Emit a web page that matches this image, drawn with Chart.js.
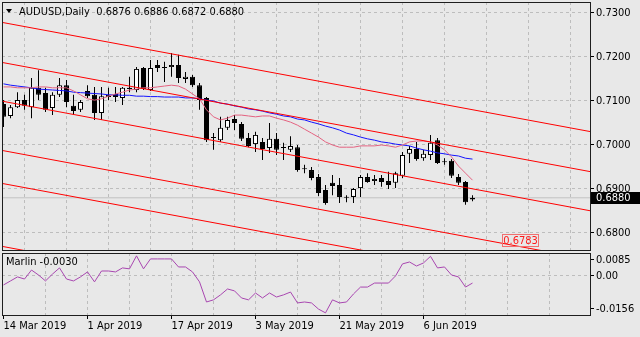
<!DOCTYPE html>
<html>
<head>
<meta charset="utf-8">
<script src="https://cdn.jsdelivr.net/npm/chart.js@4.4.1/dist/chart.umd.min.js"></script>
<style>
  html, body { margin: 0; padding: 0; background: #e8e8e8; }
  #wrap { position: relative; width: 640px; height: 337px; overflow: hidden; }
  canvas { position: absolute; left: 0; }
  #main { top: 0; }
  #osc { top: 252px; }
</style>
</head>
<body>
<div id="wrap">
  <canvas id="main" width="640" height="252"></canvas>
  <canvas id="osc" width="640" height="85"></canvas>
</div>
<script>
// daily AUDUSD candles, 14 Mar 2019 .. 17 Jun 2019 (one entry per bar)
const open = [
  0.7093, 0.7066, 0.7086, 0.7102, 0.7086, 0.7130, 0.7118, 0.7084, 0.7114, 0.7136,
  0.7089, 0.7080, 0.7123, 0.7114, 0.7073, 0.7114, 0.7116, 0.7107, 0.7130, 0.7125,
  0.7175, 0.7125, 0.7182, 0.7175, 0.7177, 0.7182, 0.7150, 0.7155, 0.7136, 0.7107,
  0.7016, 0.7011, 0.7039, 0.7059, 0.7048, 0.7016, 0.7002, 0.7007, 0.6993, 0.7014,
  0.6993, 0.6989, 0.6995, 0.6945, 0.6943, 0.6927, 0.6898, 0.6914, 0.6909, 0.6880,
  0.6882, 0.6902, 0.6927, 0.6918, 0.6925, 0.6918, 0.6914, 0.6930, 0.6980, 0.6991,
  0.6970, 0.6977, 0.7011, 0.6961, 0.6964, 0.6927, 0.6916, 0.6876
];
const high = [
  0.7102, 0.7091, 0.7120, 0.7114, 0.7152, 0.7170, 0.7130, 0.7120, 0.7152, 0.7148,
  0.7114, 0.7102, 0.7136, 0.7132, 0.7132, 0.7130, 0.7132, 0.7132, 0.7155, 0.7177,
  0.7177, 0.7193, 0.7193, 0.7189, 0.7209, 0.7205, 0.7166, 0.7159, 0.7141, 0.7109,
  0.7027, 0.7064, 0.7064, 0.7068, 0.7052, 0.7027, 0.7030, 0.7016, 0.7050, 0.7027,
  0.7005, 0.7020, 0.7000, 0.6955, 0.6950, 0.6934, 0.6909, 0.6932, 0.6925, 0.6886,
  0.6902, 0.6932, 0.6936, 0.6932, 0.6932, 0.6939, 0.6939, 0.6984, 0.6998, 0.7007,
  0.6989, 0.7023, 0.7016, 0.6970, 0.6968, 0.6934, 0.6918, 0.6886
];
const low = [
  0.7041, 0.7061, 0.7084, 0.7080, 0.7061, 0.7102, 0.7075, 0.7068, 0.7109, 0.7086,
  0.7068, 0.7075, 0.7107, 0.7057, 0.7057, 0.7102, 0.7098, 0.7091, 0.7120, 0.7120,
  0.7125, 0.7123, 0.7166, 0.7143, 0.7155, 0.7141, 0.7141, 0.7132, 0.7080, 0.7007,
  0.6989, 0.7007, 0.7034, 0.7034, 0.7009, 0.6995, 0.6984, 0.6966, 0.6982, 0.6977,
  0.6966, 0.6984, 0.6939, 0.6936, 0.6920, 0.6884, 0.6864, 0.6886, 0.6868, 0.6870,
  0.6868, 0.6882, 0.6914, 0.6909, 0.6905, 0.6900, 0.6902, 0.6925, 0.6959, 0.6964,
  0.6964, 0.6966, 0.6957, 0.6955, 0.6925, 0.6909, 0.6864, 0.6872
];
const close = [
  0.7064, 0.7086, 0.7102, 0.7089, 0.7130, 0.7114, 0.7080, 0.7114, 0.7136, 0.7098,
  0.7077, 0.7098, 0.7111, 0.7073, 0.7111, 0.7109, 0.7109, 0.7130, 0.7127, 0.7173,
  0.7127, 0.7175, 0.7175, 0.7175, 0.7182, 0.7152, 0.7155, 0.7136, 0.7102, 0.7011,
  0.7016, 0.7039, 0.7057, 0.7050, 0.7014, 0.6998, 0.7023, 0.6991, 0.7014, 0.6989,
  0.6993, 0.6998, 0.6943, 0.6945, 0.6925, 0.6891, 0.6868, 0.6907, 0.6882, 0.6880,
  0.6900, 0.6927, 0.6916, 0.6923, 0.6916, 0.6909, 0.6936, 0.6977, 0.6991, 0.6968,
  0.6980, 0.7005, 0.6959, 0.6961, 0.6930, 0.6914, 0.6870, 0.6880
];

// moving averages
const maSlow = [
  0.7139, 0.7136, 0.7134, 0.7132, 0.7130, 0.7127, 0.7126, 0.7125, 0.7124, 0.7123,
  0.7120, 0.7119, 0.7118, 0.7117, 0.7116, 0.7114, 0.7114, 0.7113, 0.7113, 0.7111,
  0.7111, 0.7110, 0.7110, 0.7109, 0.7109, 0.7109, 0.7107, 0.7107, 0.7105, 0.7102,
  0.7100, 0.7095, 0.7093, 0.7089, 0.7086, 0.7082, 0.7080, 0.7077, 0.7073, 0.7070,
  0.7066, 0.7064, 0.7059, 0.7057, 0.7052, 0.7048, 0.7043, 0.7039, 0.7034, 0.7027,
  0.7023, 0.7018, 0.7014, 0.7011, 0.7007, 0.7005, 0.7002, 0.7000, 0.6998, 0.6993,
  0.6989, 0.6986, 0.6982, 0.6980, 0.6977, 0.6975, 0.6970, 0.6968
];
const maFast = [
  0.7132, 0.7132, 0.7130, 0.7130, 0.7130, 0.7132, 0.7132, 0.7130, 0.7130, 0.7130,
  0.7123, 0.7114, 0.7105, 0.7102, 0.7105, 0.7111, 0.7116, 0.7120, 0.7125, 0.7127,
  0.7130, 0.7130, 0.7132, 0.7134, 0.7136, 0.7134, 0.7127, 0.7116, 0.7105, 0.7080,
  0.7064, 0.7057, 0.7061, 0.7068, 0.7068, 0.7066, 0.7064, 0.7066, 0.7066, 0.7061,
  0.7057, 0.7052, 0.7045, 0.7036, 0.7027, 0.7018, 0.7007, 0.7000, 0.6995, 0.6995,
  0.6995, 0.6998, 0.6998, 0.6998, 0.7000, 0.6998, 0.6995, 0.7000, 0.7007, 0.7009,
  0.7009, 0.7007, 0.7000, 0.6989, 0.6973, 0.6952, 0.6936, 0.6920
];

// Marlin oscillator
const marlin = [
  -0.0038, -0.0021, -0.0004, -0.0013, 0.0025, 0.0004, -0.0021, 0.0008, 0.0034, -0.0013,
  -0.0021, -0.0004, 0.0017, -0.0025, 0.0021, 0.0021, 0.0017, 0.0034, 0.0030, 0.0085,
  0.0030, 0.0072, 0.0072, 0.0072, 0.0072, 0.0038, 0.0038, 0.0017, -0.0025, -0.0110,
  -0.0101, -0.0080, -0.0055, -0.0063, -0.0093, -0.0101, -0.0072, -0.0093, -0.0072, -0.0089,
  -0.0080, -0.0068, -0.0114, -0.0110, -0.0114, -0.0140, -0.0156, -0.0101, -0.0114, -0.0110,
  -0.0076, -0.0047, -0.0047, -0.0030, -0.0030, -0.0030, 0.0000, 0.0051, 0.0059, 0.0042,
  0.0055, 0.0083, 0.0034, 0.0038, 0.0004, -0.0004, -0.0047, -0.0030
];

// parallel channel lines: price at bar -1 and at bar 85
const channelBars = [-1, 85];
const channelStart = [0.7281, 0.7190, 0.7102, 0.6990, 0.6915, 0.6772];
const channelEnd = [0.7027, 0.6936, 0.6847, 0.6736, 0.6661, 0.6517];
const channelLabel = 0.6783;

const priceTicks = [0.73, 0.72, 0.71, 0.70, 0.69, 0.68];
const gridBars = [6, 12, 18, 24, 30, 36, 42, 48, 54, 60, 66, 72, 78];
const dateTickBars = [0, 12, 24, 36, 48, 60];
const dateTickLabels = ['14 Mar 2019', '1 Apr 2019', '17 Apr 2019', '3 May 2019', '21 May 2019', '6 Jun 2019'];
const oscTickValues = [0.0068, 0, -0.0139];
const oscTickLabels = ['0.0085', '0.00', '-0.0156'];

const FONT = 'Tahoma, "DejaVu Sans Condensed", "DejaVu Sans", sans-serif';
const GRID = '#bdbdbd';
const XMIN = -1.5 / 7, XMAX = XMIN + 588 / 7;

const bars = open.map((v, i) => i);
const last = open.length - 1;

function frame(ctx, ca) {
  ctx.save();
  ctx.strokeStyle = '#1e1e1e';
  ctx.lineWidth = 1;
  ctx.strokeRect(ca.left + 0.5, ca.top + 0.5, ca.right - ca.left, ca.bottom - ca.top);
  ctx.restore();
}

// keep the axes from pushing the plot area around
function noPad(s) {
  s.paddingTop = 0; s.paddingBottom = 0; s.paddingLeft = 0; s.paddingRight = 0;
}

const mainOverlay = {
  id: 'mainOverlay',
  afterDraw(chart) {
    const ctx = chart.ctx, ca = chart.chartArea;
    const ys = chart.scales.y, xs = chart.scales.x;
    frame(ctx, ca);
    ctx.save();
    // title
    ctx.fillStyle = '#000';
    ctx.beginPath();
    ctx.moveTo(6, 9); ctx.lineTo(12, 9); ctx.lineTo(9, 13); ctx.closePath(); ctx.fill();
    ctx.font = '11px ' + FONT;
    ctx.textBaseline = 'middle';
    ctx.textAlign = 'left';
    const ohlc = [open[last], high[last], low[last], close[last]].map(v => v.toFixed(4)).join(' ');
    ctx.fillText('AUDUSD,Daily  ' + ohlc, 19, 12);
    // channel price label
    const lx = xs.getPixelForValue(73.8), ly = ys.getPixelForValue(channelLabel);
    ctx.strokeStyle = '#f07070';
    ctx.strokeRect(Math.round(lx - 18) + 0.5, Math.round(ly - 6) + 0.5, 36, 12);
    ctx.fillStyle = '#ff1a1a';
    ctx.textAlign = 'center';
    ctx.fillText(channelLabel.toFixed(4), lx + 0.5, ly + 0.5);
    // current price tag
    const py = Math.round(ys.getPixelForValue(close[last]));
    ctx.fillStyle = '#000';
    ctx.fillRect(591, py - 6, 49, 12);
    ctx.fillStyle = '#fff';
    ctx.textAlign = 'left';
    ctx.fillText(close[last].toFixed(4), 596, py);
    ctx.restore();
  }
};

const oscOverlay = {
  id: 'oscOverlay',
  afterDraw(chart) {
    const ctx = chart.ctx, ca = chart.chartArea;
    frame(ctx, ca);
    ctx.save();
    ctx.fillStyle = '#000';
    ctx.font = '11px ' + FONT;
    ctx.textBaseline = 'middle';
    ctx.fillText('Marlin ' + marlin[last].toFixed(4), 6, 10);
    ctx.restore();
  }
};

const lineDefaults = { type: 'line', pointRadius: 0, borderWidth: 1, fill: false, tension: 0 };

const channelSets = channelStart.map((v, k) => Object.assign({}, lineDefaults, {
  data: [{ x: channelBars[0], y: v }, { x: channelBars[1], y: channelEnd[k] }],
  borderColor: '#ff0000',
  order: 1
}));

new Chart(document.getElementById('main'), {
  type: 'bar',
  data: {
    datasets: [
      Object.assign({}, lineDefaults, {
        data: [{ x: -1, y: close[last] }, { x: 85, y: close[last] }],
        borderColor: '#c2c2c2', order: 6
      }),
      {
        data: bars.map(i => ({ x: i, y: [low[i], high[i]] })),
        backgroundColor: '#000', borderWidth: 0, barThickness: 1,
        grouped: false, inflateAmount: 0, order: 5
      },
      {
        data: bars.map(i => ({ x: i, y: [open[i], close[i]] })),
        backgroundColor: c => close[c.dataIndex] > open[c.dataIndex] ? '#ffffff' : '#000000',
        borderColor: '#000', borderWidth: 1, borderSkipped: false,
        barThickness: 5, minBarLength: 1, grouped: false, inflateAmount: 0, order: 4
      },
      Object.assign({}, lineDefaults, {
        data: bars.map(i => ({ x: i, y: maSlow[i] })), borderColor: '#1414ff', order: 3
      }),
      Object.assign({}, lineDefaults, {
        data: bars.map(i => ({ x: i, y: maFast[i] })), borderColor: 'rgb(228,98,128)', order: 2
      })
    ].concat(channelSets)
  },
  options: {
    responsive: false,
    animation: false,
    devicePixelRatio: 1,
    layout: { padding: { left: 2, top: 2, right: 0, bottom: 2 } },
    plugins: { legend: { display: false }, tooltip: { enabled: false } },
    scales: {
      x: {
        type: 'linear', min: XMIN, max: XMAX, offset: false,
        afterBuildTicks: s => { s.ticks = gridBars.map(v => ({ value: v })); },
        afterFit: s => { s.height = 0; noPad(s); },
        ticks: { display: false },
        grid: { color: GRID, drawTicks: false },
        border: { display: false, dash: [3, 3] }
      },
      y: {
        position: 'right', min: 0.676136, max: 0.7325,
        afterBuildTicks: s => { s.ticks = priceTicks.map(v => ({ value: v })); },
        afterFit: s => { s.width = 50; noPad(s); },
        ticks: { callback: v => v.toFixed(4), color: '#000', font: { family: FONT, size: 11 }, padding: 2 },
        grid: { color: GRID, tickColor: '#000', tickLength: 4, tickBorderDash: [] },
        border: { display: false, dash: [3, 3] }
      }
    }
  },
  plugins: [mainOverlay]
});

new Chart(document.getElementById('osc'), {
  type: 'line',
  data: {
    datasets: [Object.assign({}, lineDefaults, {
      data: bars.map(i => ({ x: i, y: marlin[i] })), borderColor: '#a846b0'
    })]
  },
  options: {
    responsive: false,
    animation: false,
    devicePixelRatio: 1,
    layout: { padding: { left: 2, top: 1, right: 0, bottom: 0 } },
    plugins: { legend: { display: false }, tooltip: { enabled: false } },
    scales: {
      x: {
        type: 'linear', min: XMIN, max: XMAX,
        afterBuildTicks: s => { s.ticks = [0].concat(gridBars).map(v => ({ value: v })); },
        afterFit: s => { s.height = 22; noPad(s); },
        ticks: {
          autoSkip: false, maxRotation: 0, align: 'start', padding: 1,
          color: '#000', font: { family: FONT, size: 11 },
          callback: v => { const k = dateTickBars.indexOf(v); return k < 0 ? '' : dateTickLabels[k]; }
        },
        grid: {
          color: c => (c.tick && gridBars.includes(c.tick.value)) ? GRID : 'rgba(0,0,0,0)',
          tickColor: c => (c.tick && dateTickBars.includes(c.tick.value)) ? '#000' : 'rgba(0,0,0,0)',
          tickLength: 4, tickBorderDash: []
        },
        border: { display: false, dash: [3, 3] }
      },
      y: {
        position: 'right', min: -0.0165, max: 0.0097,
        afterBuildTicks: s => { s.ticks = oscTickValues.map(v => ({ value: v })); },
        afterFit: s => { s.width = 50; noPad(s); },
        ticks: {
          color: '#000', font: { family: FONT, size: 11 }, padding: 2,
          callback: (v, i) => oscTickLabels[i]
        },
        grid: {
          color: c => (c.tick && c.tick.value === 0) ? GRID : 'rgba(0,0,0,0)',
          tickColor: '#000', tickLength: 4, tickBorderDash: []
        },
        border: { display: false, dash: [3, 3] }
      }
    }
  },
  plugins: [oscOverlay]
});
</script>
</body>
</html>
